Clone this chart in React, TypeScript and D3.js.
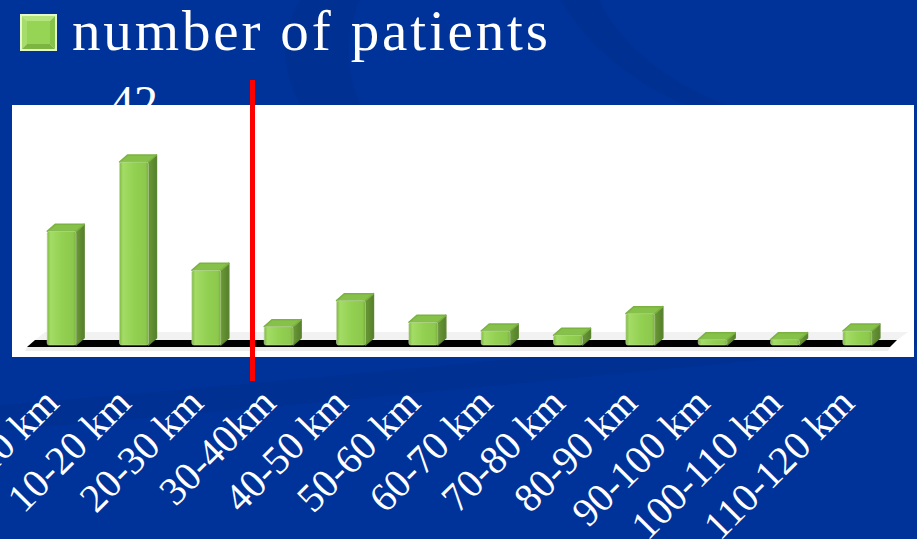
import React from "react";
import * as d3 from "d3";

const categories = [
  "0-10 km", "10-20 km", "20-30 km", "30-40km", "40-50 km", "50-60 km",
  "60-70 km", "70-80 km", "80-90 km", "90-100 km", "100-110 km", "110-120 km",
];
const patients = [26, 42, 17, 4, 10, 5, 3, 2, 7, 1, 1, 3];
const legendLabel = "number of patients";

const W = 917;
const H = 539;
const BASE = 345;
const DX = 8;
const DY = -7;

export default function App() {
  const x = d3.scaleBand<string>().domain(categories).range([11, 908]).paddingInner(0.6).paddingOuter(0.5);
  const y = d3.scaleLinear().domain([0, d3.max(patients) as number]).range([BASE - 1, BASE - 183]);
  const bw = x.bandwidth();
  const maxIdx = patients.indexOf(d3.max(patients) as number);
  const font = "'Liberation Serif', 'Times New Roman', serif";

  return (
    <svg width={W} height={H} style={{ position: "absolute", left: 0, top: 0, display: "block" }}>
      <defs>
        <linearGradient id="front" x1="0" x2="1" y1="0" y2="0">
          <stop offset="0" stopColor="#7fb943" />
          <stop offset="0.12" stopColor="#a4dc66" />
          <stop offset="0.5" stopColor="#93d152" />
          <stop offset="0.9" stopColor="#8cc84c" />
          <stop offset="1" stopColor="#77ad3e" />
        </linearGradient>
        <linearGradient id="side" x1="0" x2="1" y1="0" y2="0">
          <stop offset="0" stopColor="#6a9a36" />
          <stop offset="1" stopColor="#577f2c" />
        </linearGradient>
      </defs>
      <rect x={0} y={0} width={W} height={H} fill="#003399" />
      {/* subtle background swooshes */}
      <path d="M300,0 C260,60 300,150 420,210 L470,210 C360,150 330,70 360,0 Z" fill="#002d88" opacity={0.35} />
      <path d="M560,0 C590,50 640,90 700,110 L740,110 C670,85 620,45 600,0 Z" fill="#002d88" opacity={0.35} />
      <path d="M0,430 L0,405 C250,385 500,360 917,320 L917,345 C500,385 250,410 0,430 Z" fill="#002d88" opacity={0.45} />

      {/* legend */}
      <g>
        <rect x={20} y={14} width={37} height={37} fill="#e4f7c8" />
        <polygon points="22,16 55,16 38.5,32.5" fill="#b4e47c" />
        <polygon points="22,16 22,49 38.5,32.5" fill="#a6dc6a" />
        <polygon points="55,16 55,49 38.5,32.5" fill="#86c448" />
        <polygon points="22,49 55,49 38.5,32.5" fill="#7cb640" />
        <rect x={27} y={21} width={23} height={23} fill="#96d456" />
        <text x={72} y={50} fill="#ffffff" fontFamily={font} fontSize={57} textLength={476} lengthAdjust="spacing">
          {legendLabel}
        </text>
      </g>

      {/* hidden data label peeking above the plot area */}
      <text x={(x(categories[maxIdx]) as number) + bw / 2} y={119} fill="#ffffff" fontFamily={font} fontSize={48} textAnchor="middle">
        {String(patients[maxIdx])}
      </text>

      {/* plot area */}
      <rect x={12} y={105} width={902} height={252} fill="#ffffff" />

      {/* floor */}
      <polygon points={`45,332 908,332 897,340 35,340`} fill="#f2f2f2" />
      <polygon points={`35,340 897,340 890,347 27,347`} fill="#000000" />
      <polygon points={`27,347 890,347 888,351 25,351`} fill="#eeeeee" />

      {/* bars */}
      {categories.map((c, i) => {
        const x0 = x(c) as number;
        const yt = y(patients[i]);
        const x1 = x0 + bw;
        return (
          <g key={c}>
            <polygon
              points={`${x1},${yt} ${x1 + DX},${yt + DY} ${x1 + DX},${BASE + DY} ${x1},${BASE}`}
              fill="url(#side)" stroke="#5b8430" strokeWidth={1.5} strokeLinejoin="round"
            />
            <polygon
              points={`${x0},${yt} ${x0 + DX},${yt + DY} ${x1 + DX},${yt + DY} ${x1},${yt}`}
              fill="#86c14a" stroke="#7bb242" strokeWidth={1.5} strokeLinejoin="round"
            />
            <rect x={x0} y={yt} width={bw} height={BASE - yt} rx={2} fill="url(#front)" stroke="#c9d9b4" strokeWidth={0.6} />
          </g>
        );
      })}

      {/* red marker line */}
      <rect x={250} y={80} width={5} height={301} fill="#ff0000" />

      {/* axis labels */}
      {categories.map((c) => {
        const cx = (x(c) as number) + bw / 2 - 1;
        const cy = 405;
        return (
          <text key={c} x={cx} y={cy} transform={`rotate(-45 ${cx} ${cy})`} fill="#ffffff" fontFamily={font} fontSize={40} textAnchor="end">
            {c}
          </text>
        );
      })}
    </svg>
  );
}
